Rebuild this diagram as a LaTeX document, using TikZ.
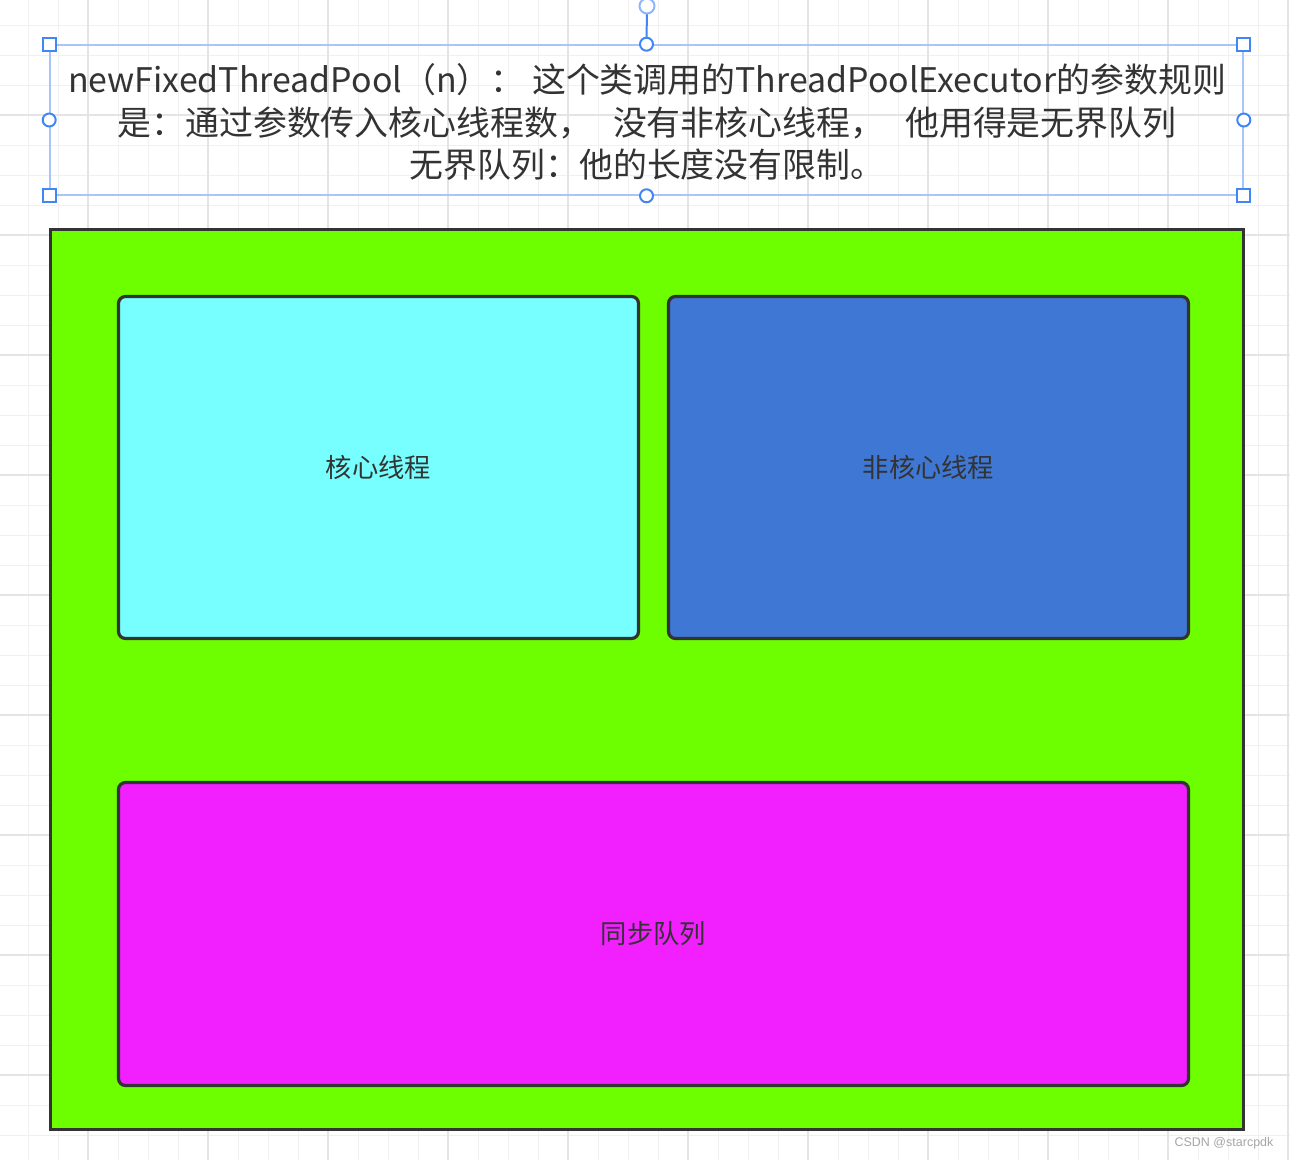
\documentclass[tikz,border=0pt]{standalone}
\usepackage{fontspec}
\setmainfont{Noto Sans CJK SC}
\newfontfamily\markfont{Liberation Sans}
\usetikzlibrary{positioning}

\definecolor{poolgreen}{HTML}{6DFF00}
\definecolor{corecyan}{HTML}{77FFFF}
\definecolor{extrablue}{HTML}{3F78D4}
\definecolor{queuepink}{HTML}{F220FF}
\definecolor{edge}{HTML}{333333}
\definecolor{label}{HTML}{333333}
\definecolor{gridminor}{HTML}{F0F0F0}
\definecolor{gridmajor}{HTML}{E4E4E4}
\definecolor{handle}{HTML}{4285F4}
\definecolor{selframe}{HTML}{A9C5F6}

\begin{document}
\begin{tikzpicture}[x=1pt, y=-1pt,
	box/.style={draw=edge, line width=3.2pt, rounded corners=7pt, text=label,
		font=\fontsize{26.3}{30}\selectfont, inner sep=0pt},
	grip/.style={draw=handle, fill=white, line width=2pt, inner sep=0pt}]
		% Background and grid
		\useasboundingbox (0, 0) rectangle (1290, 1160);
		\fill[white] (0, 0) rectangle (1290, 1160);
		\foreach \x in {28, 58, ..., 1288}
			\draw[gridminor, line width=1pt] (\x, 0) -- (\x, 1160);
		\foreach \y in {25, 55, ..., 1155}
			\draw[gridminor, line width=1pt] (0, \y) -- (1290, \y);
		\foreach \x in {88, 208, ..., 1288}
			\draw[gridmajor, line width=1.2pt] (\x, 0) -- (\x, 1160);
		\foreach \y in {115, 235, ..., 1155}
			\draw[gridmajor, line width=1.2pt] (0, \y) -- (1290, \y);
		
		% Selected title text with its handles
		\node[draw=selframe, line width=1.6pt, minimum width=1193pt, minimum height=150pt,
			inner sep=0pt] (sel) at (646.5, 120) {};
		\node[text=label, align=center, font=\fontsize{33.9}{42.5}\selectfont, inner sep=0pt]
			(title) at (647, 122) {newFixedThreadPool（n）： 这个类调用的ThreadPoolExecutor的参数规则\\
			是：通过参数传入核心线程数，\hspace{21pt}没有非核心线程，\hspace{21pt}他用得是无界队列\\
			无界队列：他的长度没有限制。};
		\coordinate (rot) at (647, 6);
		\draw[handle, line width=2pt] (sel.north) -- (rot);
		\node[grip, circle, minimum size=15pt, draw=handle!60] (roth) at (rot) {};
		\foreach \a in {north west, north east, south west, south east}
			\node[grip, rectangle, minimum size=13pt] at (sel.\a) {};
		\foreach \a in {north, south, west, east}
			\node[grip, circle, minimum size=13pt] at (sel.\a) {};
		
		% Thread pool and its parts
		\node[draw=edge, line width=3.2pt, fill=poolgreen, minimum width=1193pt,
			minimum height=900pt, inner sep=0pt] (pool) at (647, 679.5) {};
		\node[box, fill=corecyan, minimum width=520pt, minimum height=342pt]
			(core) at (378.5, 467.5) {核心线程};
		\node[box, fill=extrablue, minimum width=520pt, minimum height=342pt]
			(extra) at (928.5, 467.5) {非核心线程};
		\node[box, fill=queuepink, minimum width=1070pt, minimum height=303pt]
			(queue) at (653.5, 934) {同步队列};
		
		% Watermark
		\node[font=\markfont\fontsize{12.5}{14}\selectfont, text=black!35, inner sep=0pt]
			(mark) at (1224, 1143) {CSDN @starcpdk};
	\end{tikzpicture}
\end{document}
